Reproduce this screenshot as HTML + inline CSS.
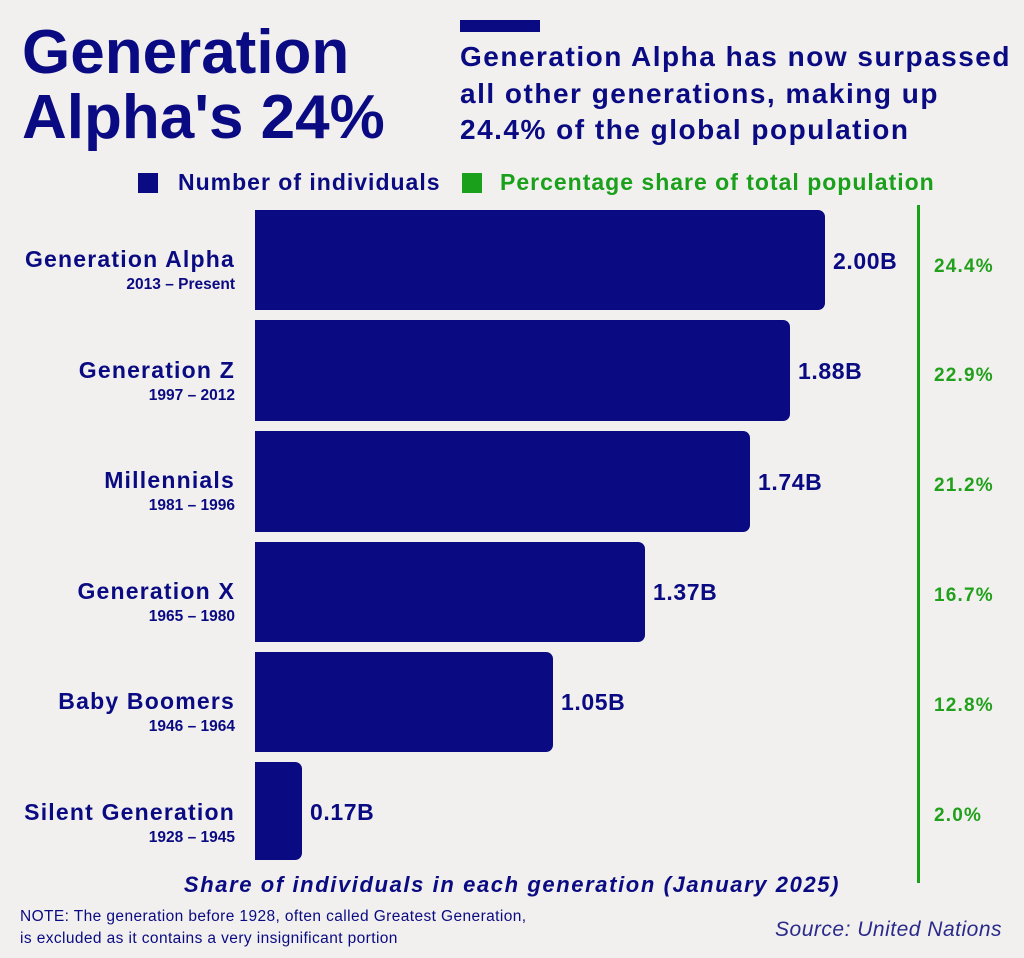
<!DOCTYPE html>
<html><head><meta charset="utf-8"><style>
*{margin:0;padding:0;box-sizing:border-box}
body{width:1024px;height:958px;background:#f1f0ee;font-family:"Liberation Sans",sans-serif;color:#0a0a82;position:relative;overflow:hidden}
.a{position:absolute;white-space:nowrap}
.bar{position:absolute;left:255px;background:#0a0a82;border-radius:0 7px 7px 0}
.nm{position:absolute;right:789px;text-align:right;font-weight:bold;font-size:23px;letter-spacing:1.2px;line-height:26px}
.nm span{display:block;font-size:15.5px;letter-spacing:0;line-height:20px;margin-top:3px}
.v{position:absolute;font-weight:bold;font-size:23px;letter-spacing:0.6px;line-height:26px}
.p{position:absolute;left:934px;font-weight:bold;font-size:19px;letter-spacing:1.2px;color:#21a01b;line-height:22px}
</style></head><body>
<div class="a" style="left:22px;top:20px;font-size:62px;font-weight:bold;line-height:65px;letter-spacing:0px">Generation<br>Alpha's 24%</div>
<div class="a" style="left:460px;top:20px;width:80px;height:12px;background:#0a0a82"></div>
<div class="a" style="left:460px;top:39px;font-size:28px;letter-spacing:1.5px;font-weight:bold;line-height:36.5px">Generation Alpha has now surpassed<br>all other generations, making up<br>24.4% of the global population</div>
<div class="a" style="left:138px;top:173px;width:20px;height:20px;background:#0a0a82"></div>
<div class="a" style="left:178px;top:169px;font-size:23px;letter-spacing:1px;font-weight:bold">Number of individuals</div>
<div class="a" style="left:462px;top:173px;width:20px;height:20px;background:#1aa01a"></div>
<div class="a" style="left:500px;top:169px;font-size:23px;letter-spacing:1px;font-weight:bold;color:#1aa01a">Percentage share of total population</div>

<div class="bar" style="top:210px;height:100px;width:570px"></div>
<div class="bar" style="top:320px;height:101px;width:535px"></div>
<div class="bar" style="top:431px;height:101px;width:495px"></div>
<div class="bar" style="top:542px;height:100px;width:390px"></div>
<div class="bar" style="top:652px;height:100px;width:298px"></div>
<div class="bar" style="top:762px;height:98px;width:47px"></div>

<div class="nm" style="top:246px">Generation Alpha<span>2013 – Present</span></div>
<div class="nm" style="top:357px">Generation Z<span>1997 – 2012</span></div>
<div class="nm" style="top:467px">Millennials<span>1981 – 1996</span></div>
<div class="nm" style="top:578px">Generation X<span>1965 – 1980</span></div>
<div class="nm" style="top:688px">Baby Boomers<span>1946 – 1964</span></div>
<div class="nm" style="top:799px">Silent Generation<span>1928 – 1945</span></div>

<div class="v" style="left:833px;top:248px">2.00B</div>
<div class="v" style="left:798px;top:358px">1.88B</div>
<div class="v" style="left:758px;top:469px">1.74B</div>
<div class="v" style="left:653px;top:579px">1.37B</div>
<div class="v" style="left:561px;top:689px">1.05B</div>
<div class="v" style="left:310px;top:799px">0.17B</div>

<div class="a" style="left:917px;top:205px;width:3px;height:678px;background:#1aa01a"></div>
<div class="p" style="top:256px">24.4%</div>
<div class="p" style="top:365px">22.9%</div>
<div class="p" style="top:475px">21.2%</div>
<div class="p" style="top:585px">16.7%</div>
<div class="p" style="top:695px">12.8%</div>
<div class="p" style="top:805px">2.0%</div>

<div class="a" style="left:0;width:1024px;text-align:center;top:872px;font-size:22px;letter-spacing:1.6px;font-weight:bold;font-style:italic">Share of individuals in each generation (January 2025)</div>
<div class="a" style="left:20px;top:906px;font-size:15.5px;letter-spacing:0.4px;line-height:22px">NOTE: The generation before 1928, often called Greatest Generation,<br>is excluded as it contains a very insignificant portion</div>
<div class="a" style="right:22px;top:918px;font-size:21px;letter-spacing:0.5px;font-style:italic;color:#2a2a8a">Source: United Nations</div>
</body></html>
